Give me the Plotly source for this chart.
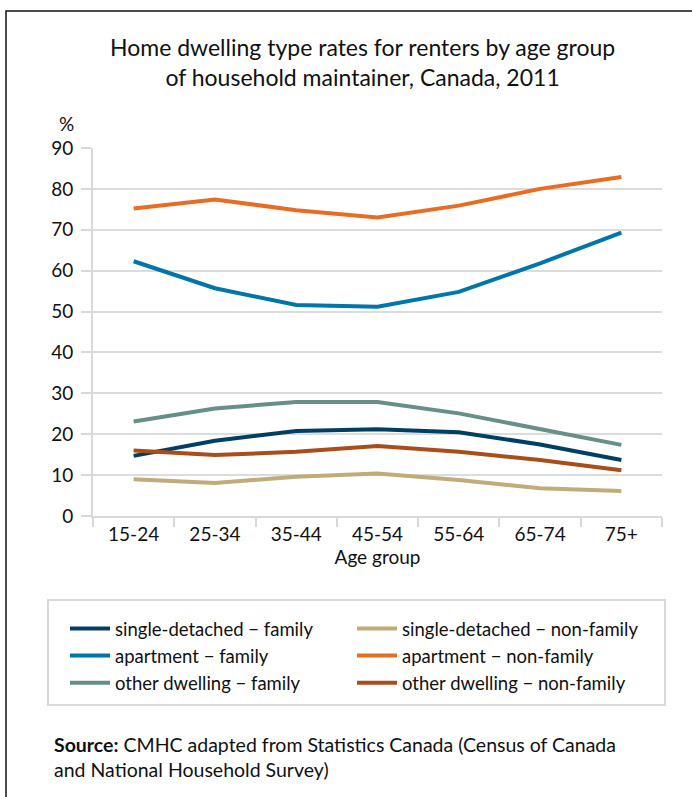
import plotly.graph_objects as go

age_groups = ["15-24", "25-34", "35-44", "45-54", "55-64", "65-74", "75+"]
single_detached_family = [14.7, 18.4, 20.8, 21.2, 20.5, 17.5, 13.7]
single_detached_nonfamily = [9.0, 8.1, 9.6, 10.4, 8.8, 6.8, 6.1]
apartment_family = [62.3, 55.7, 51.6, 51.2, 54.8, 61.8, 69.3]
apartment_nonfamily = [75.2, 77.4, 74.8, 73.0, 75.9, 80.0, 82.9]
other_family = [23.1, 26.3, 27.9, 27.9, 25.1, 21.3, 17.4]
other_nonfamily = [16.0, 14.9, 15.7, 17.1, 15.7, 13.7, 11.2]
y_ticks = [0, 10, 20, 30, 40, 50, 60, 70, 80, 90]

series = [
    ("single-detached − family", single_detached_family, "#003f63"),
    ("single-detached − non-family", single_detached_nonfamily, "#bfac79"),
    ("apartment − family", apartment_family, "#0075a8"),
    ("apartment − non-family", apartment_nonfamily, "#e86d24"),
    ("other dwelling − family", other_family, "#668f87"),
    ("other dwelling − non-family", other_nonfamily, "#a84e1b"),
]

FONT = "Lato"
fig = go.Figure()
for name, vals, col in series:
    fig.add_trace(go.Scatter(x=age_groups, y=vals, name=name, mode="lines",
                             line=dict(color=col, width=4)))

# plot area pixel geometry
L, R, T, B = 93, 662, 148, 516
W, H = 692, 797
def px(x):
    return (x - L) / (R - L)
def py(y):
    return (B - y) / (B - T)

fig.update_layout(
    width=W, height=H,
    margin=dict(l=L, r=W - R, t=T, b=H - B),
    plot_bgcolor="white", paper_bgcolor="white",
    font=dict(family=FONT, color="#111111", size=19),
    showlegend=True,
    legend=dict(orientation="h", x=px(65), y=py(610), xanchor="left", yanchor="top",
                entrywidth=232, entrywidthmode="pixels", font=dict(size=18.5, family=FONT),
                tracegroupgap=0, itemwidth=40, bgcolor="rgba(0,0,0,0)"),
    xaxis=dict(type="category", range=[-0.5, 6.5], showgrid=False, showline=True,
               linecolor="#d9d9d9", linewidth=2,
               ticks="outside", tickson="boundaries", ticklen=9, tickcolor="#d9d9d9", tickwidth=2,
               tickfont=dict(size=19), title=dict(text="Age group", font=dict(size=19), standoff=4)),
    yaxis=dict(range=[0, 90], tickvals=y_ticks, showgrid=True, gridcolor="#dcdcdc", gridwidth=2,
               showline=True, linecolor="#d9d9d9", linewidth=2, zeroline=False,
               ticks="outside", ticklen=10, tickcolor="#d9d9d9", tickwidth=2,
               ticklabelstandoff=4, tickfont=dict(size=19)),
    annotations=[
        dict(text="Home dwelling type rates for renters by age group<br>of household maintainer, Canada, 2011",
             xref="paper", yref="paper", x=px(362), y=py(62), xanchor="center", yanchor="middle",
             showarrow=False, font=dict(size=23, family=FONT), align="center"),
        dict(text="%", xref="paper", yref="paper", x=px(66), y=py(124), xanchor="center",
             yanchor="middle", showarrow=False, font=dict(size=19, family=FONT)),
        dict(text="<b>Source:</b> CMHC adapted from Statistics Canada (Census of Canada<br>and National Household Survey)",
             xref="paper", yref="paper", x=px(52), y=py(757), xanchor="left", yanchor="middle",
             showarrow=False, font=dict(size=19.5, family=FONT), align="left"),
    ],
    shapes=[
        dict(type="rect", xref="paper", yref="paper", x0=px(6), x1=px(720), y0=py(11), y1=py(830),
             line=dict(color="#111111", width=1.5), fillcolor="rgba(0,0,0,0)", layer="below"),
        dict(type="rect", xref="paper", yref="paper", x0=px(48), x1=px(665), y0=py(600), y1=py(705),
             line=dict(color="#d9d9d9", width=2), fillcolor="rgba(0,0,0,0)", layer="below"),
    ],
)

fig.write_html("out.html")
